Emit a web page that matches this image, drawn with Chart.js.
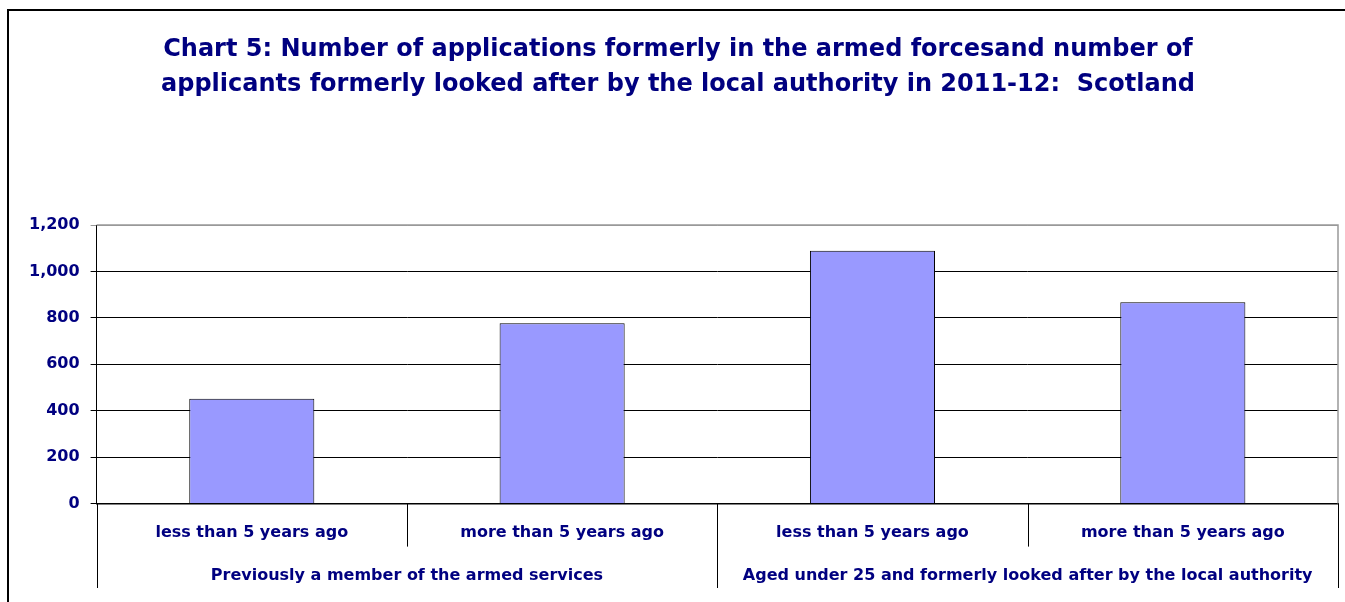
<!DOCTYPE html>
<html lang="en">

<head>
    <meta charset="UTF-8">
    <script src="https://cdn.jsdelivr.net/npm/chart.js"></script>
    <title>Chart 5</title>
    <style>
        body { margin: 0; overflow: hidden; background: #fff; }
        #frame { position: absolute; left: 7px; top: 9px; width: 1400px; height: 700px; border: 2px solid #000; }
        #wrap { position: absolute; left: 0; top: 0; width: 1345px; height: 602px; }
    </style>
</head>

<body>
    <div id="frame"></div>
    <div id="wrap"><canvas id="chart5"></canvas></div>
</body>

<script>
    // applications by category, 2011-12
    const categories = ['less than 5 years ago', 'more than 5 years ago', 'less than 5 years ago', 'more than 5 years ago'];
    const groups = ['Previously a member of the armed services', 'Aged under 25 and formerly looked after by the local authority'];
    const applicants = [452, 777, 1089, 867];
    const yMax = 1200;
    const yStep = 200;

    const navy = '#000080';
    const font = 'DejaVu Sans, sans-serif';

    // grey frame round the plot area
    const plotFrame = {
        id: 'plotFrame',
        beforeDatasetsDraw(chart) {
            const a = chart.chartArea;
            const c = chart.ctx;
            c.save();
            c.strokeStyle = '#999';
            c.lineWidth = 1.5;
            c.beginPath();
            c.moveTo(a.left, a.top);
            c.lineTo(a.right, a.top);
            c.lineTo(a.right, a.bottom);
            c.stroke();
            c.restore();
        }
    };

    // divider lines under the x axis: short ones between categories, long ones between groups
    const dividers = {
        id: 'dividers',
        afterDraw(chart) {
            const x = chart.scales.x;
            const x2 = chart.scales.x2;
            const c = chart.ctx;
            const n = categories.length;
            const perGroup = n / groups.length;
            const step = x.getPixelForTick(1) - x.getPixelForTick(0);
            c.save();
            c.strokeStyle = '#000';
            c.lineWidth = 1;
            for (let i = 0; i <= n; i++) {
                let px = Math.round(x.getPixelForTick(0) + (i - 0.5) * step) + 0.5;
                let bottom = (i % perGroup === 0) ? x2.bottom : x.top + 43;
                c.beginPath();
                c.moveTo(px, x.top);
                c.lineTo(px, bottom);
                c.stroke();
            }
            c.restore();
        }
    };

    let ctx = document.getElementById('chart5').getContext('2d');
    let chart5 = new Chart(ctx, {
        type: 'bar',
        data: {
            labels: categories,
            datasets: [{
                data: applicants,
                backgroundColor: '#9999FF',
                borderColor: '#000',
                borderWidth: 1,
                barPercentage: 0.403,
                categoryPercentage: 1
            }]
        },
        plugins: [plotFrame, dividers],
        options: {
            responsive: true,
            maintainAspectRatio: false,
            animation: false,
            layout: {
                padding: { left: 18, right: 7, top: 0, bottom: 14 }
            },
            plugins: {
                legend: { display: false },
                tooltip: { enabled: false },
                title: {
                    display: true,
                    text: ['Chart 5: Number of applications formerly in the armed forcesand number of',
                        'applicants formerly looked after by the local authority in 2011-12:  Scotland'],
                    color: navy,
                    font: { family: font, size: 24, weight: 'bold', lineHeight: '35px' },
                    padding: { top: 32, bottom: 123 }
                }
            },
            scales: {
                x: {
                    grid: { display: false, drawTicks: false },
                    border: { display: true, color: '#000', width: 1.5 },
                    ticks: {
                        color: navy,
                        padding: 20,
                        maxRotation: 0,
                        autoSkip: false,
                        font: { family: font, size: 16, weight: 'bold' }
                    }
                },
                x2: {
                    type: 'category',
                    position: 'bottom',
                    labels: groups,
                    offset: true,
                    grid: { display: false, drawTicks: false },
                    border: { display: false },
                    ticks: {
                        color: navy,
                        padding: 3,
                        maxRotation: 0,
                        autoSkip: false,
                        font: { family: font, size: 16, weight: 'bold' }
                    }
                },
                y: {
                    min: 0,
                    max: yMax,
                    ticks: {
                        stepSize: yStep,
                        color: navy,
                        padding: 11,
                        font: { family: font, size: 16, weight: 'bold' },
                        callback: function (v) { return v.toLocaleString('en-US'); }
                    },
                    grid: {
                        color: function (c) { return c.tick && c.tick.value === yMax ? '#999' : '#000'; },
                        lineWidth: 1,
                        tickLength: 6
                    },
                    border: { display: true, color: '#000', width: 1 }
                }
            }
        }
    });
</script>

</html>
